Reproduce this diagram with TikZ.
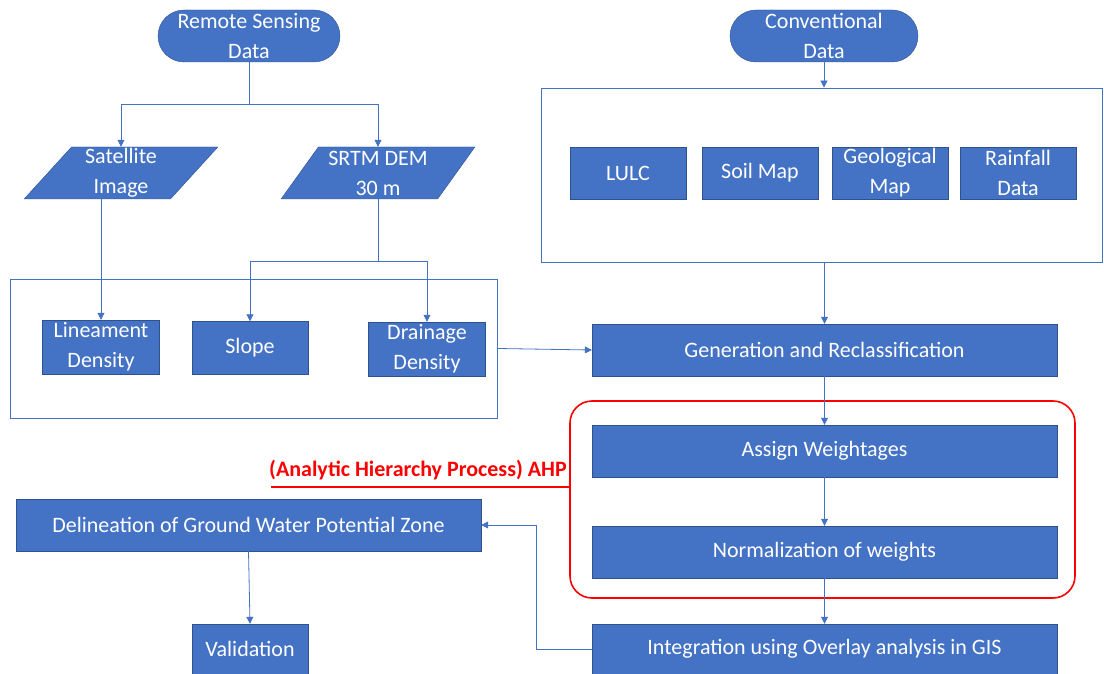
\documentclass[tikz,border=0pt]{standalone}
\usepackage{fontspec}
\setmainfont{Carlito}
\usepackage{tikz}
\usetikzlibrary{arrows.meta,shapes.geometric}
\definecolor{cBox}{HTML}{4472C4}
\definecolor{cEdge}{HTML}{2F528F}
\definecolor{cLine}{HTML}{4472C4}
\definecolor{cAhp}{HTML}{FF0000}
\newcommand{\fsz}{\fontsize{22}{30}\selectfont}

\begin{document}
\begin{tikzpicture}[x=1pt, y=-1pt, >={Triangle[length=7pt,width=7pt]},
  box/.style={draw=cEdge, fill=cBox, text=white, font=\fsz, inner sep=0pt,
    align=center, minimum height=52pt},
  term/.style={box, rounded corners=26pt, minimum width=182pt},
  para/.style={box, trapezium, trapezium left angle=55, trapezium right angle=125,
    trapezium stretches=true, minimum width=194pt},
  grp/.style={draw=cLine, thick, inner sep=0pt},
  conn/.style={draw=cLine, thick, ->}]
  \useasboundingbox (0,0) rectangle (1104,674);
  % quelles
  \node[term] (rs) at (249,36) {Remote Sensing\\Data};
  \node[term, minimum width=188pt] (conv) at (824,36) {Conventional\\Data};
  \node[para] (sat) at (121,173) {Satellite\\Image};
  \node[para] (srtm) at (378,173) {SRTM DEM\\30 m};
  % groupes
  \node[grp, minimum width=487pt, minimum height=139pt] (lgrp) at (253.5,348.5) {};
  \node[grp, minimum width=561pt, minimum height=174pt] (rgrp) at (821.5,175) {};
  \node[box, minimum width=117pt, minimum height=54pt] (lin) at (101,347) {Lineament\\Density};
  \node[box, minimum width=116pt, minimum height=53pt] (slope) at (250,348) {Slope};
  \node[box, minimum width=117pt, minimum height=54pt] (drain) at (427,349) {Drainage\\Density};
  \foreach \nm/\xx/\txt in {lulc/628/LULC, soil/760/Soil Map, geo/890/Geological\\Map, rain/1018/Rainfall\\Data}
    \node[box, minimum width=116pt] (\nm) at (\xx,173) {\txt};
  % AHP
  \node[draw=cAhp, line width=1.6pt, rounded corners=22pt, minimum width=505pt, minimum height=197pt] (ahp) at (822.5,499.5) {};
  \node[text=cAhp, font=\fontsize{22}{26}\selectfont\bfseries, anchor=south west, inner sep=0pt] (ahplbl) at (269,480) {(Analytic Hierarchy Process) AHP};
  \draw[cAhp, line width=2.4pt] (ahplbl.south west) ++(2,7) coordinate (ahpl) -- (ahpl -| ahp.west);
  % etapes
  \node[box, minimum width=465pt] (gen) at (824.5,350) {Generation and Reclassification};
  \node[box, minimum width=465pt] (assign) at (824.5,451) {Assign Weightages};
  \node[box, minimum width=465pt] (norm) at (824.5,552) {Normalization of weights};
  \node[box, minimum width=465pt, minimum height=50pt] (integ) at (824.5,649) {Integration using Overlay analysis in GIS};
  \node[box, minimum width=465pt] (deli) at (248.5,525) {Delineation of Ground Water Potential Zone};
  \node[box, minimum width=116pt, minimum height=50pt] (valid) at (250,649) {Validation};
  % connecteurs
  \draw[conn] (rs.south) -- ++(0,42) -| (sat.north);
  \draw[conn] (rs.south) -- ++(0,42) -| (srtm.north);
  \draw[conn] (sat.south -| lin) -- (lin.north);
  \draw[conn] (srtm.south) -- ++(0,62) -| (slope.north);
  \draw[conn] (srtm.south) -- ++(0,62) -| (drain.north);
  \draw[conn] (conv.south) -- (conv.south |- rgrp.north);
  \draw[conn] (rgrp.south -| gen) -- (gen.north);
  \draw[conn] (lgrp.east) -- (gen.west);
  \draw[conn] (gen) -- (assign);
  \draw[conn] (assign) -- (norm);
  \draw[conn] (norm) -- (integ);
  \draw[conn] (integ.west) -- ++(-55,0) |- (deli.east);
  \draw[conn] (deli.south) -- (valid.north);
\end{tikzpicture}
\end{document}
